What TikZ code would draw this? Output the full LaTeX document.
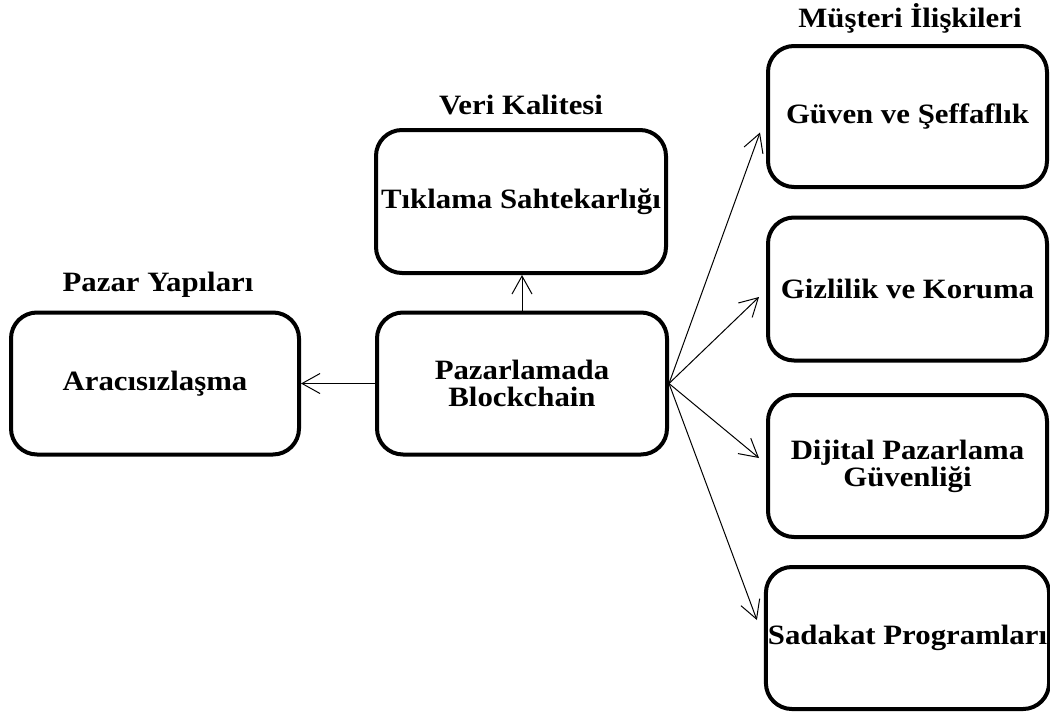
\documentclass[tikz,border=0pt]{standalone}
\usepackage{fontspec}
\setmainfont{Liberation Serif}[FakeStretch=1.1]
\usetikzlibrary{arrows.meta}
\begin{document}
\begin{tikzpicture}[x=1pt,y=-1pt,
  box/.style={draw=black,line width=4pt,rounded corners=26pt,fill=white,
    minimum width=288pt,minimum height=142pt,align=center,inner sep=2pt,
    font=\fontsize{28}{31}\selectfont\bfseries},
  lbl/.style={font=\fontsize{28}{31}\selectfont\bfseries,inner sep=0pt},
  conn/.style={line width=1pt,-{Straight Barb[length=18pt,width=20pt,line width=1pt]}}]
\useasboundingbox (0,0) rectangle (1050,713);
\node[box] (ara) at (155,383.5) {Aracısızlaşma};
\node[box,minimum width=290pt] (pb) at (522,383.5) {Pazarlamada\\[-4pt]Blockchain};
\node[box,minimum width=290pt,minimum height=143pt] (tik) at (521,201.5) {Tıklama Sahtekarlığı};
\node[box,minimum width=279pt,minimum height=141pt] (g1) at (907.5,116.5) {Güven ve Şeffaflık};
\node[box,minimum width=279pt,minimum height=143pt] (g2) at (907.5,289) {Gizlilik ve Koruma};
\node[box,minimum width=279pt,minimum height=142pt] (g3) at (907.5,466) {Dijital Pazarlama\\[-4pt]Güvenliği};
\node[box,minimum width=279pt,minimum height=142pt] (g4) at (907.5,638) {Sadakat Programları};
\node[lbl] (l1) at (158,285) {Pazar Yapıları};
\node[lbl] (l2) at (521,105) {Veri Kalitesi};
\node[lbl] (l3) at (910,18) {Müşteri İlişkileri};
\draw[conn] (pb.west) -- (ara.east);
\draw[conn] (pb.north) -- (pb.north |- tik.south);
\draw[conn] (pb.east) -- ([xshift=-6pt,yshift=-16pt]g1.west);
\draw[conn] (pb.east) -- ([xshift=-7pt,yshift=-8pt]g2.west);
\draw[conn] (pb.east) -- ([xshift=-7pt,yshift=8pt]g3.west);
\draw[conn] (pb.east) -- ([xshift=-7pt,yshift=18pt]g4.west);
\end{tikzpicture}
\end{document}
